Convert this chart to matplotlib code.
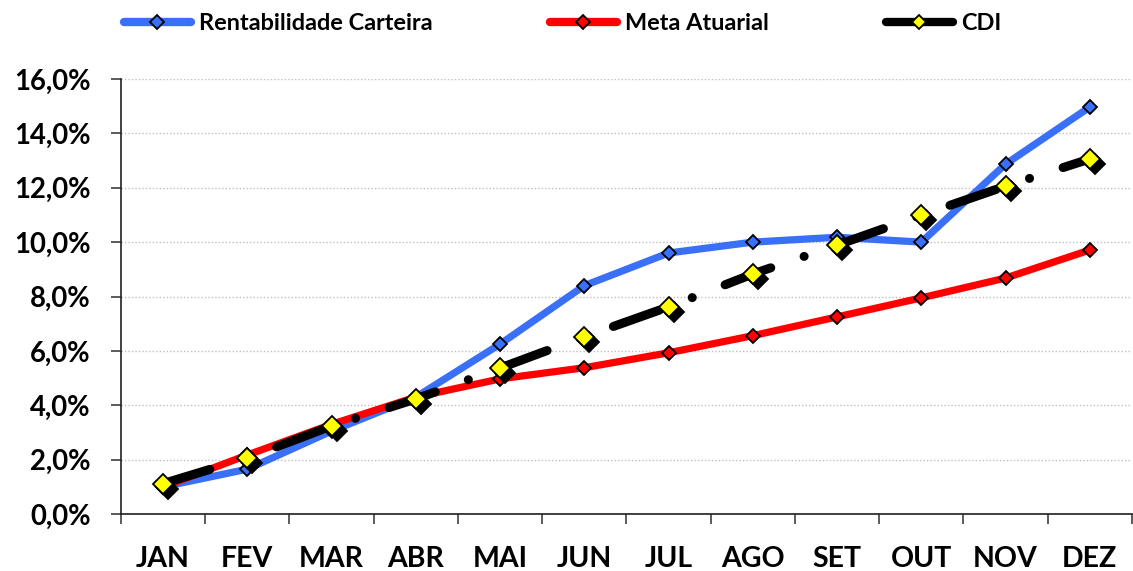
import matplotlib
matplotlib.use("Agg")
import matplotlib.pyplot as plt
from matplotlib.transforms import ScaledTranslation
from matplotlib.ticker import FuncFormatter, MultipleLocator, FixedLocator, NullFormatter
from matplotlib.lines import Line2D

months = ["JAN", "FEV", "MAR", "ABR", "MAI", "JUN", "JUL", "AGO", "SET", "OUT", "NOV", "DEZ"]
rentabilidade = [1.0, 1.65, 3.05, 4.3, 6.25, 8.4, 9.6, 10.0, 10.18, 10.0, 12.87, 14.97]
meta_atuarial = [1.0, 2.17, 3.3, 4.3, 4.97, 5.38, 5.93, 6.56, 7.25, 7.95, 8.68, 9.71]
cdi = [1.12, 2.06, 3.24, 4.23, 5.37, 6.52, 7.62, 8.83, 9.89, 10.99, 12.06, 13.06]
series_labels = ["Rentabilidade Carteira", "Meta Atuarial", "CDI"]

FONT = "Lato"
plt.rcParams['font.family'] = [FONT, 'DejaVu Sans']

fig = plt.figure(figsize=(11.33, 5.71), dpi=100)
ax = fig.add_axes([121 / 1133, 1 - 514 / 571, (1132 - 121) / 1133, (514 - 79) / 571])

x = list(range(len(months)))

blue = "#3A6FF7"
red = "#FF0000"

ax.plot(x, rentabilidade, color=blue, lw=5.2, solid_capstyle="round", solid_joinstyle="round",
        marker="D", ms=7.5, mfc=blue, mec="black", mew=1.3, zorder=3)
ax.plot(x, meta_atuarial, color=red, lw=5.2, solid_capstyle="round", solid_joinstyle="round",
        marker="D", ms=7.5, mfc=red, mec="black", mew=1.3, zorder=4)

ax.plot(x, cdi, color="black", lw=6.5, dash_capstyle="round",
        linestyle=(0, (5.4, 3.9, 0.01, 3.9)), zorder=5)
shadow = ScaledTranslation(5 / 100, -5 / 100, fig.dpi_scale_trans)
ax.plot(x, cdi, linestyle="none", marker="D", ms=10, mfc="black", mec="black", mew=1.3,
        transform=ax.transData + shadow, zorder=6)
ax.plot(x, cdi, linestyle="none", marker="D", ms=10, mfc="#FFFF00", mec="black", mew=1.3,
        zorder=7)

ax.set_xlim(-0.5, len(months) - 0.5)
ax.set_ylim(0, 16)

ax.yaxis.set_major_locator(MultipleLocator(2))
ax.yaxis.set_major_formatter(FuncFormatter(lambda v, p: f"{v:.1f}%".replace(".", ",")))
ax.grid(axis="y", color="#BFBFBF", linestyle=(0, (1, 1.5)), lw=1.0, zorder=0)
ax.set_axisbelow(True)

ax.xaxis.set_major_locator(FixedLocator(x))
ax.set_xticklabels(months)
ax.xaxis.set_minor_locator(FixedLocator([i - 0.5 for i in range(len(months) + 1)]))
ax.xaxis.set_minor_formatter(NullFormatter())
ax.tick_params(axis="x", which="major", length=0, pad=23)
ax.tick_params(axis="x", which="minor", length=7, width=1.2, color="#404040", direction="out")
ax.tick_params(axis="y", which="major", length=7, width=1.2, color="#404040", direction="out", pad=15)

for lab in ax.get_xticklabels():
    lab.set_fontsize(20.5)
    lab.set_fontweight("bold")
for lab in ax.get_yticklabels():
    lab.set_fontsize(19.8)
    lab.set_fontweight("bold")

for s in ["top", "right"]:
    ax.spines[s].set_visible(False)
for s in ["left", "bottom"]:
    ax.spines[s].set_color("#202020")
    ax.spines[s].set_linewidth(1.2)

handles = [
    Line2D([], [], color=blue, lw=6, solid_capstyle="round", marker="D", ms=7, mfc=blue, mec="black", mew=1.3),
    Line2D([], [], color=red, lw=6, solid_capstyle="round", marker="D", ms=7, mfc=red, mec="black", mew=1.3),
    Line2D([], [], color="black", lw=6, solid_capstyle="round", marker="D", ms=7, mfc="#FFFF00", mec="black", mew=1.3),
]
leg = fig.legend(handles, series_labels, loc="center left", bbox_to_anchor=(124 / 1133, 1 - 24 / 571), ncol=3,
                 frameon=False, borderpad=0, borderaxespad=0, handlelength=2.85, handletextpad=0.34,
                 columnspacing=5.0, prop={"family": FONT, "weight": "bold", "size": 16.9})

fig.savefig("out.png", dpi=100)
